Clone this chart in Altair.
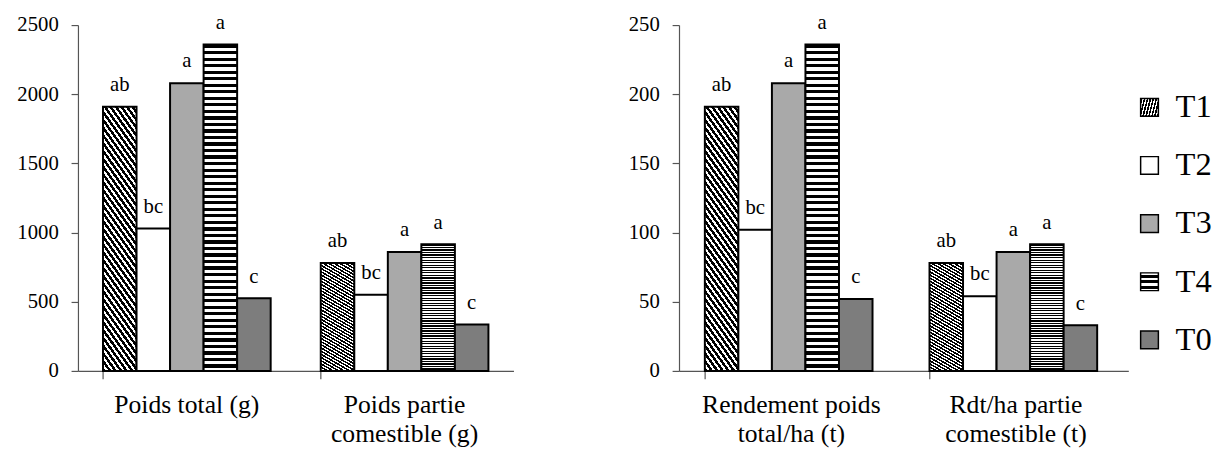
import altair as alt
import pandas as pd

# ---------------- data ----------------
series = ["T1", "T2", "T3", "T4", "T0"]
cat_poids = ["Poids total (g)", "Poids partie\ncomestible (g)"]
cat_rdt = ["Rendement poids\ntotal/ha (t)", "Rdt/ha partie\ncomestible (t)"]
poids_total = [1910, 1030, 2080, 2360, 525]
poids_comestible = [780, 550, 860, 915, 335]
rdt_total = [191, 102, 208, 236, 52]
rdt_comestible = [78, 54, 86, 91.5, 33]
lettres_total = ["ab", "bc", "a", "a", "c"]
lettres_comestible = ["ab", "bc", "a", "a", "c"]

SERIF = "Liberation Serif"


def table(cats, v1, v2, l1, l2):
    rows = []
    for cat, vals, lets in ((cats[0], v1, l1), (cats[1], v2, l2)):
        for s, v, l in zip(series, vals, lets):
            rows.append({"categorie": cat, "traitement": s, "valeur": v, "lettre": l})
    return pd.DataFrame(rows)


df_poids = table(cat_poids, poids_total, poids_comestible, lettres_total, lettres_comestible)
df_rdt = table(cat_rdt, rdt_total, rdt_comestible, lettres_total, lettres_comestible)


# ---------------- pattern-like fills (striped gradients) ----------------
def stripes(x1, y1, x2, y2, n, frac=0.5, dark="#000000", light="#ffffff"):
    parts = []
    for i in range(n):
        a = i / n
        b = (i + frac) / n
        c = (i + 1) / n
        parts += [(a, dark), (b, dark), (b, light), (c, light)]
    st = ",".join("{offset:%.5f,color:'%s'}" % (o, col) for o, col in parts)
    return {"expr": "{gradient:'linear',x1:%s,y1:%s,x2:%s,y2:%s,stops:[%s]}" % (x1, y1, x2, y2, st)}


fill_range = [
    stripes(0, 1, 0.204, -0.142, 40, 0.55),   # T1 diagonal hatching
    "#ffffff",                                 # T2 sparse dots
    "#a9a9a9",                                 # T3 cross-hatch
    stripes(0, 0, 0, 1, 50, 0.5),             # T4 horizontal stripes
    "#7d7d7d",                                 # T0 dense dots
]


def panel(df, cats, ymax, width, legend):
    x_main = alt.X(
        "categorie:N", sort=cats,
        scale=alt.Scale(paddingInner=0.23, paddingOuter=0.115),
        axis=alt.Axis(title=None, labelAngle=0, labelExpr="split(datum.label, '\\n')",
                      labelFont=SERIF, labelFontSize=26, labelLineHeight=30,
                      labelLimit=400, labelColor="black", labelPadding=21, ticks=False,
                      domainColor="#555555", domainWidth=1.2, orient="bottom"),
    )
    x_ticks = alt.X(
        "categorie:N", sort=cats,
        axis=alt.Axis(title=None, labels=False, domain=False, ticks=True, bandPosition=0,
                      tickSize=8, tickColor="#555555", tickWidth=1.2, orient="bottom"),
    )
    xo = alt.XOffset("traitement:N", sort=series,
                     scale=alt.Scale(domain=series, paddingInner=0, paddingOuter=0))
    y = alt.Y("valeur:Q", stack=None,
              scale=alt.Scale(domain=[0, ymax], nice=False),
              axis=alt.Axis(title=None, tickCount=5, format="d", grid=False, labelFont=SERIF,
                            labelFontSize=21, labelColor="black", labelPadding=13,
                            tickSize=7, tickColor="#555555", tickWidth=1.2,
                            domainColor="#555555", domainWidth=1.2))
    bars = alt.Chart(df).mark_bar(stroke="black", strokeWidth=2).encode(
        x=x_main, xOffset=xo, y=y,
        fill=alt.Fill("traitement:N", scale=alt.Scale(domain=series, range=fill_range),
                      legend=legend),
    )
    text = alt.Chart(df).mark_text(baseline="alphabetic", dy=-16, font=SERIF,
                                   fontSize=21, color="black").encode(
        x=x_ticks, xOffset=xo, y=y, text="lettre:N")
    return alt.layer(bars, text).resolve_axis(x="independent").properties(width=width, height=351)


legend = alt.Legend(title=None, orient="none", legendX=461, legendY=67,
                    symbolType="square", symbolSize=324, symbolStrokeColor="black",
                    symbolStrokeWidth=1.5, labelFont=SERIF, labelFontSize=33,
                    labelColor="black", labelOffset=10, rowPadding=25)

left = panel(df_poids, cat_poids, 2500, 442, None)
right = panel(df_rdt, cat_rdt, 250, 456, legend)

chart = alt.hconcat(left, right, spacing=116).resolve_scale(fill="independent").configure_view(
    stroke=None
).properties(padding={"left": 9, "top": 0, "right": 5, "bottom": 5})

chart.save("out.html", embed_options={"renderer": "svg", "actions": False})
